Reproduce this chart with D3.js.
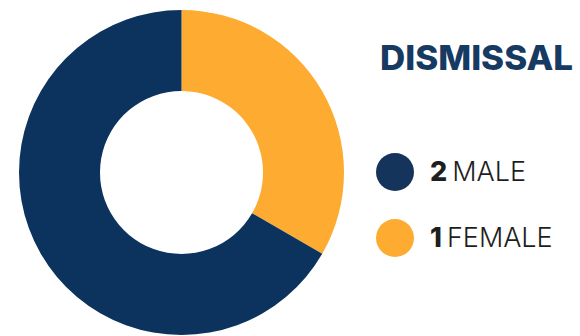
<!DOCTYPE html>
<html>
<head>
<meta charset="utf-8">
<script src="https://cdn.jsdelivr.net/npm/d3@7"></script>
<style>
  html, body { margin: 0; padding: 0; background: #fff; }
  svg { display: block; }
</style>
</head>
<body>
<svg id="chart" width="580" height="336"></svg>
<script>
// Dismissal counts by gender
const categories = ["FEMALE", "MALE"];
const counts = [1, 2];
const colors = ["#fdab31", "#0b335e"];
const title = "DISMISSAL";
const legendOrder = ["MALE", "FEMALE"];

const svg = d3.select("#chart");
const cx = 181.5, cy = 172.5;
const outerR = 162.5, innerR = 81.5;

const color = d3.scaleOrdinal().domain(categories).range(colors);

const data = categories.map((c, i) => ({ cat: c, value: counts[i] }));

const pie = d3.pie()
  .value(d => d.value)
  .sort(null)
  .startAngle(0)
  .endAngle(2 * Math.PI);

const arc = d3.arc().innerRadius(innerR).outerRadius(outerR);

svg.append("g")
  .attr("transform", `translate(${cx},${cy})`)
  .selectAll("path")
  .data(pie(data))
  .join("path")
  .attr("d", arc)
  .attr("fill", d => color(d.data.cat));

// Title
svg.append("text")
  .attr("x", 380)
  .attr("y", 70)
  .attr("font-family", "Inter, 'Open Sans', sans-serif")
  .attr("font-weight", 800)
  .attr("font-size", 34)
  .attr("fill", "#173a63")
  .attr("textLength", 193)
  .attr("lengthAdjust", "spacingAndGlyphs")
  .text(title);

// Legend
const legendY = d3.scalePoint().domain(legendOrder).range([172, 238]);
const legend = svg.append("g")
  .selectAll("g")
  .data(legendOrder.map(c => data.find(d => d.cat === c)))
  .join("g")
  .attr("transform", d => `translate(395,${legendY(d.cat)})`);

legend.append("circle")
  .attr("r", 19)
  .attr("fill", d => d.cat === "MALE" ? "#15345c" : color(d.cat));

const label = legend.append("text")
  .attr("x", 35)
  .attr("y", 9)
  .attr("font-family", "Inter, 'Open Sans', sans-serif")
  .attr("font-size", 27)
  .attr("fill", "#1e1e1e");

label.append("tspan")
  .attr("font-weight", 800)
  .text(d => d.value);
label.append("tspan")
  .attr("font-weight", 300)
  .attr("dx", 5)
  .text(d => d.cat);
</script>
</body>
</html>
